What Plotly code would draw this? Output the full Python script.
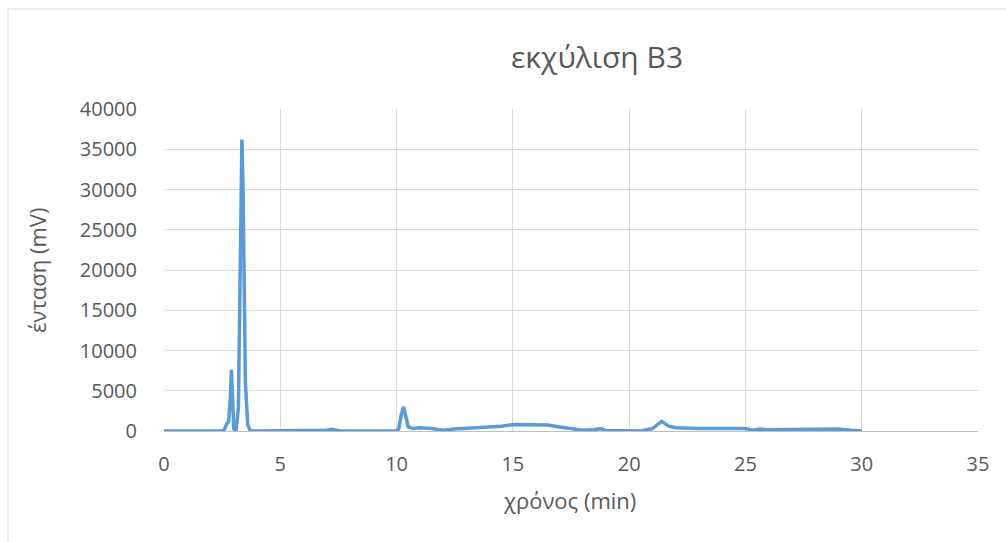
import plotly.graph_objects as go

# Retention time (min) and intensity (mV)
time_min = [0, 0.3, 0.5, 2.5, 2.6, 2.7, 2.78, 2.85, 2.9, 2.95, 3.0, 3.05, 3.1, 3.2, 3.3, 3.35, 3.4, 3.5, 3.6, 3.7, 3.8,
            4.0, 6.8, 7.0, 7.2, 7.4, 7.6, 10.0, 10.1, 10.2, 10.3, 10.4, 10.5, 10.7, 11.0, 11.5, 12.0, 12.5, 13.0,
            13.5, 14.0, 14.5, 15.0, 15.5, 16.0, 16.5, 17.0, 17.5, 18.0, 18.5, 18.8, 19.0, 19.5, 20.5, 21.0, 21.4,
            21.7, 22.0, 23.0, 24.0, 25.0, 25.3, 25.6, 26.0, 27.0, 28.0, 28.5, 29.0, 29.5, 30.0]
intensity_mv = [0, 60, 0, 0, 200, 900, 1200, 4000, 7600, 4000, 300, 0, 0, 3000, 30000, 36200, 30000, 6000, 800, 100, 0,
                0, 0, 100, 200, 50, 0, 0, 300, 2000, 3000, 1800, 500, 300, 400, 300, 100, 250, 350,
                400, 450, 600, 800, 750, 700, 750, 500, 300, 100, 150, 300, 50, 0, 0, 300, 1200,
                600, 400, 300, 350, 300, 100, 250, 150, 200, 150, 200, 250, 100, 0]

title_text = "εκχύλιση Β3"
x_title = "χρόνος (min)"
y_title = "ένταση (mV)"

FONT = "Open Sans"
GREY = "#595959"
GRID = "#d9d9d9"

fig = go.Figure()
fig.add_trace(go.Scatter(x=time_min, y=intensity_mv, mode="lines",
                         line=dict(color="#5B9BD5", width=3.5), showlegend=False))

W, H = 1006, 542
L, R, T, B = 164, 28, 109, 111
pw, ph = W - L - R, H - T - B

def px(xp):
    return (xp - L) / pw

def py(yp):
    return (H - B - yp) / ph

fig.update_layout(
    width=W, height=H,
    margin=dict(l=L, r=R, t=T, b=B),
    paper_bgcolor="white", plot_bgcolor="white",
    font=dict(family=FONT, color=GREY, size=20),
    xaxis=dict(range=[0, 35], dtick=5, tick0=0, showgrid=True, gridcolor=GRID, gridwidth=1,
               zeroline=False, showline=True, linecolor="#bfbfbf", linewidth=1,
               ticks="outside", ticklen=15, tickcolor="rgba(0,0,0,0)",
               tickfont=dict(size=20, color=GREY, family=FONT)),
    yaxis=dict(range=[0, 40000], dtick=5000, tick0=0, showgrid=True, gridcolor=GRID, gridwidth=1,
               zeroline=False, showline=False, tickformat="d",
               ticks="outside", ticklen=22, tickcolor="rgba(0,0,0,0)",
               tickfont=dict(size=20, color=GREY, family=FONT)),
    annotations=[
        dict(text=title_text, x=px(597), y=py(57), xref="paper", yref="paper", showarrow=False,
             xanchor="center", yanchor="middle", font=dict(size=30, color=GREY, family=FONT)),
        dict(text=x_title, x=px(569), y=py(500), xref="paper", yref="paper", showarrow=False,
             xanchor="center", yanchor="middle", font=dict(size=22, color=GREY, family=FONT)),
        dict(text=y_title, x=px(37), y=py(270), xref="paper", yref="paper", showarrow=False,
             xanchor="center", yanchor="middle", textangle=-90, font=dict(size=22, color=GREY, family=FONT)),
    ],
    shapes=[
        dict(type="line", xref="paper", yref="paper", x0=px(8), x1=px(8), y0=py(545), y1=py(9),
             line=dict(color=GRID, width=1)),
        dict(type="line", xref="paper", yref="paper", x0=px(8), x1=px(1010), y0=py(9), y1=py(9),
             line=dict(color=GRID, width=1)),
    ],
)

fig.write_html("out.html")
